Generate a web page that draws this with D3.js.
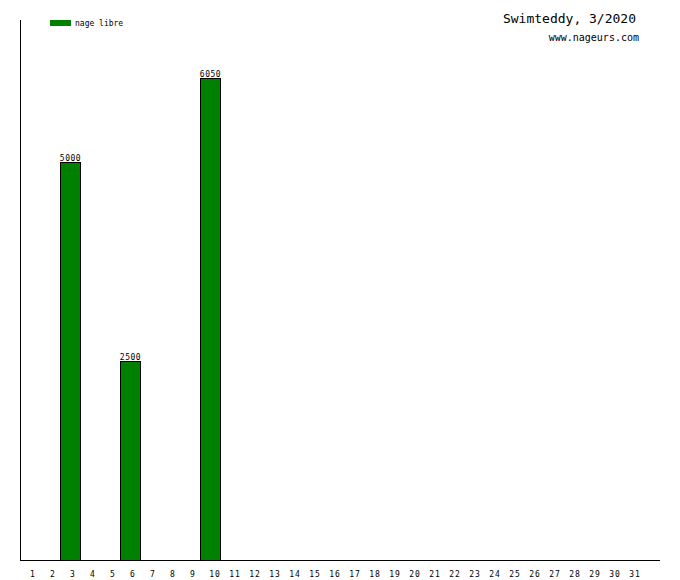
<!DOCTYPE html>
<html>
<head>
<meta charset="utf-8">
<script src="https://cdn.jsdelivr.net/npm/d3@7"></script>
<style>
  body { margin: 0; background: #fff; }
  svg text { font-family: "DejaVu Sans Mono", "Liberation Mono", monospace; }
</style>
</head>
<body>
<svg width="680" height="580"></svg>
<script>
var days = d3.range(1, 32)
var swimDays = [3, 6, 10]
var swimDistances = [5000, 2500, 6050]
var seriesName = 'nage libre'
var title = 'Swimteddy, 3/2020'
var site = 'www.nageurs.com'

var svg = d3.select('svg'),
    plotLeft = 20,
    plotRight = 640,
    plotTop = 20,
    plotBottom = 560,
    green = '#008000'

var x = d3.scaleBand()
    .domain(days)
    .range([plotLeft, plotRight])

var y = d3.scaleLinear()
    .domain([0, 6785])
    .range([plotBottom, plotTop])

var data = swimDays.map((d, i) => ({day: d, value: swimDistances[i]}))

// bars
svg.selectAll('.bar')
    .data(data)
    .enter().append('rect')
    .attr('class', 'bar')
    .attr('x', d => x(d.day) + 0.5)
    .attr('y', d => Math.round(y(d.value)) + 0.5)
    .attr('width', x.bandwidth())
    .attr('height', d => plotBottom - Math.round(y(d.value)))
    .attr('fill', green)
    .attr('stroke', '#000')
    .attr('stroke-width', 1)

svg.selectAll('.val')
    .data(data)
    .enter().append('text')
    .attr('class', 'val')
    .attr('x', d => x(d.day) + x.bandwidth() / 2 + 0.5)
    .attr('y', d => Math.round(y(d.value)) - 1)
    .attr('text-anchor', 'middle')
    .attr('font-size', 8)
    .attr('letter-spacing', 0.5)
    .text(d => d.value)

// axes
svg.append('line')
    .attr('x1', plotLeft + 0.5).attr('x2', plotLeft + 0.5)
    .attr('y1', plotTop).attr('y2', plotBottom + 0.5)
    .attr('stroke', '#000')
svg.append('line')
    .attr('x1', plotLeft).attr('x2', plotRight + 20)
    .attr('y1', plotBottom + 0.5).attr('y2', plotBottom + 0.5)
    .attr('stroke', '#000')

svg.selectAll('.day')
    .data(days)
    .enter().append('text')
    .attr('class', 'day')
    .attr('x', d => x(d) + (d < 10 ? 13 : 15))
    .attr('y', 577)
    .attr('text-anchor', 'middle')
    .attr('font-size', 8)
    .attr('letter-spacing', 1)
    .text(d => d)

// legend
svg.append('rect')
    .attr('x', 50).attr('y', 20)
    .attr('width', 21).attr('height', 6)
    .attr('fill', green)
svg.append('text')
    .attr('x', 75).attr('y', 26)
    .attr('font-size', 8)
    .text(seriesName)

// title
svg.append('text')
    .attr('x', 636).attr('y', 23)
    .attr('text-anchor', 'end')
    .attr('font-size', 13)
    .text(title)
svg.append('text')
    .attr('x', 639).attr('y', 41)
    .attr('text-anchor', 'end')
    .attr('font-size', 10)
    .text(site)
</script>
</body>
</html>
